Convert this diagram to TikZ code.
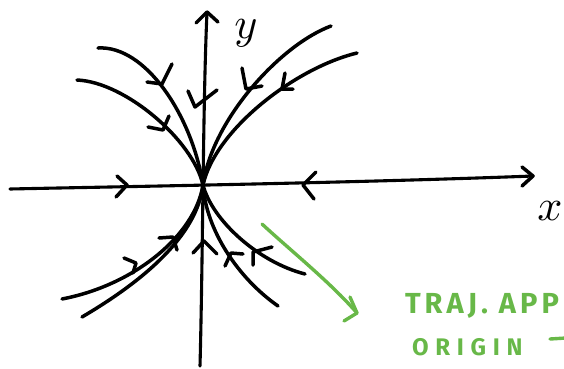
\documentclass[tikz,border=0pt]{standalone}
\usepackage{fontspec}
\newfontfamily\handfont{Fira Sans}
\definecolor{notegreen}{RGB}{104,184,72}
\tikzset{
  ink/.style={draw=black, line width=3.5pt, line cap=round, line join=round},
  axisline/.style={ink, line width=3.1pt},
  chev/.style={ink, line width=3.5pt},
  greenink/.style={draw=notegreen, line width=3.4pt, line cap=round, line join=round},
  lbl/.style={inner sep=0pt, outer sep=0pt, scale=4.4},
  note/.style={inner sep=0pt, outer sep=0pt, text=notegreen, anchor=base west}
}
\begin{document}
\begin{tikzpicture}[x=1pt,y=-1pt]
\path[use as bounding box, clip] (0,0) rectangle (564,368);
\coordinate (O) at (203,185);
% axes
\coordinate (xs) at (10,189);
\coordinate (xe) at (533,176);
\coordinate (ys) at (200,366);
\coordinate (ye) at (207,12);
\draw[axisline] (xs) .. controls (100,187) and (350,183) .. (xe);
\draw[axisline] (ys) .. controls (203,250) and (203,100) .. (ye);
\draw[chev] (522,167) -- (xe) -- (522,186);
\draw[chev] (196,23) -- (ye) -- (218,22);
\node[lbl] (ylab) at (246,33) {$y$};
\node[lbl] (xlab) at (550,211) {$x$};
% arrows on axes
\draw[chev] (117,176) -- (127,185) -- (116,197);
\draw[chev] (316,172) -- (303,185) -- (314,199);
\draw[chev] (188,91) -- (195,107) -- (217,90);
\draw[chev] (193,253) -- (204,241) -- (217,254);
% upper trajectories
\draw[ink] (98,48) .. controls (145,45) and (192,115) .. (O);
\draw[ink] (77,80) .. controls (125,82) and (193,140) .. (O);
\draw[ink] (331,26) .. controls (280,45) and (212,120) .. (O);
\draw[ink] (357,53) .. controls (295,68) and (215,130) .. (O);
\draw[chev] (172,64) -- (162,84) -- (147,82);
\draw[chev] (169,116) -- (163,130) -- (148,127);
\draw[chev] (242,68) -- (246,89) -- (262,86);
\draw[chev] (285,73) -- (282,89) -- (293,89);
% lower trajectories
\draw[ink] (62,299) .. controls (135,285) and (195,235) .. (O);
\draw[ink] (82,317) .. controls (145,280) and (197,235) .. (O);
\draw[ink] (O) .. controls (206,230) and (238,278) .. (278,306);
\draw[ink] (O) .. controls (212,220) and (258,262) .. (305,274);
\draw[chev] (124,258) -- (136,263) -- (133,273);
\draw[chev] (159,238) -- (173,237) -- (177,250);
\draw[chev] (225,266) -- (231,253) -- (243,254);
\draw[chev] (272,247) -- (253,252) -- (253,265);
% green note
\coordinate (gs) at (262,224);
\coordinate (ge) at (357,313);
\draw[greenink] (gs) .. controls (290,250) and (330,282) .. (ge);
\draw[greenink] (350,297) -- (ge) -- (344,321);
\node[note] (note1) at (405,313) {\handfont\bfseries\fontsize{29}{29}\selectfont\addfontfeature{LetterSpace=14}TRAJ. APP};
\node[note] (note2) at (412,355) {\handfont\bfseries\fontsize{24}{24}\selectfont\addfontfeature{LetterSpace=28}ORIGIN};
\draw[greenink] (550,339) -- (566,338);
\end{tikzpicture}
\end{document}
